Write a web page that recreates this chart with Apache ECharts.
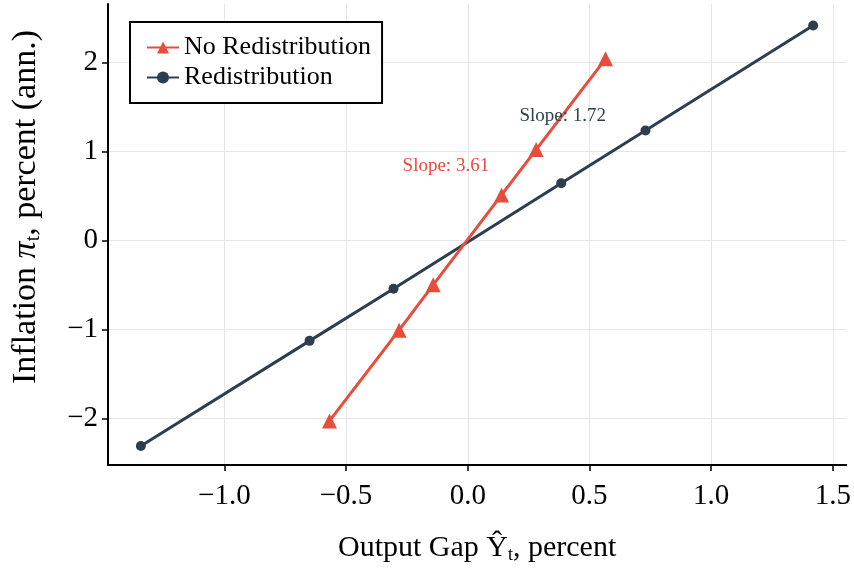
<!DOCTYPE html>
<html>
<head>
<meta charset="utf-8">
<script src="https://cdn.jsdelivr.net/npm/echarts@6/dist/echarts.min.js"></script>
<style>
  html, body { margin: 0; padding: 0; background: #fff; }
  #chart { width: 854px; height: 569px; }
</style>
</head>
<body>
<div id="chart"></div>
<script>
// Output gap (x) and annualised inflation (y) for the two model variants
const noRedistX = [-0.568, -0.282, -0.142, 0.139, 0.281, 0.566];
const noRedistY = [-2.03, -1.01, -0.50, 0.51, 1.02, 2.04];
const redistX = [-1.343, -0.650, -0.305, 0.384, 0.730, 1.419];
const redistY = [-2.312, -1.130, -0.545, 0.642, 1.235, 2.414];

// Axis tick values
const xTicks = [-1.0, -0.5, 0.0, 0.5, 1.0, 1.5];
const yTicks = [-2, -1, 0, 1, 2];

// Slope annotations: [x, y, text]
const slopeNoRedist = [-0.09, 0.83, 'Slope: 3.61'];
const slopeRedist = [0.39, 1.40, 'Slope: 1.72'];

const RED = '#e74c3c';
const NAVY = '#2c3e50';
const FONT = '"Liberation Serif", "DejaVu Serif", serif';

const zip = (xs, ys) => xs.map((x, i) => [x, ys[i]]);

const chart = echarts.init(document.getElementById('chart'), null, { renderer: 'canvas' });

const axisCommon = {
  axisLine: { show: true, onZero: false, lineStyle: { color: '#000', width: 2 } },
  axisTick: { show: true, inside: false, length: 6, lineStyle: { color: '#000', width: 1.5 } },
  splitLine: { show: true, lineStyle: { color: '#e6e6e6', width: 1 } },
  nameLocation: 'middle'
};

chart.setOption({
  animation: false,
  backgroundColor: '#fff',
  textStyle: { fontFamily: FONT },
  grid: { left: 108, right: 6, top: 4, bottom: 102, containLabel: false },
  legend: {
    orient: 'vertical',
    left: 130,
    top: 22,
    padding: [12, 11, 12, 16],
    backgroundColor: '#fff',
    borderColor: '#000',
    borderWidth: 2,
    borderRadius: 0,
    itemWidth: 32,
    itemHeight: 15,
    itemGap: 3,
    textStyle: { fontFamily: FONT, fontSize: 26, color: '#000', lineHeight: 27 },
    data: ['No Redistribution', 'Redistribution']
  },
  xAxis: Object.assign({}, axisCommon, {
    type: 'value',
    min: -1.478,
    max: 1.555,
    axisTick: Object.assign({}, axisCommon.axisTick, { customValues: xTicks }),
    axisLabel: {
      customValues: xTicks,
      margin: 17,
      fontFamily: FONT,
      fontSize: 29,
      color: '#000',
      formatter: v => (v < 0 ? '\u2212' : '') + Math.abs(v).toFixed(1)
    },
    name: '{t|Output Gap \u0176}{s|t}{t|, percent}',
    nameGap: 67,
    nameTextStyle: {
      rich: {
        t: { fontFamily: FONT, fontSize: 30, color: '#000' },
        s: { fontFamily: FONT, fontSize: 18, color: '#000', verticalAlign: 'bottom', padding: [14, 0, 0, 0] }
      }
    }
  }),
  yAxis: Object.assign({}, axisCommon, {
    type: 'value',
    min: -2.525,
    max: 2.656,
    axisTick: Object.assign({}, axisCommon.axisTick, { customValues: yTicks }),
    axisLabel: {
      customValues: yTicks,
      margin: 10,
      fontFamily: FONT,
      fontSize: 29,
      color: '#000',
      formatter: v => (v < 0 ? '\u2212' : '') + Math.abs(v)
    },
    name: '{t|Inflation }{p|\u03c0}{s|t}{t|, percent (ann.)}',
    nameGap: 64,
    nameTextStyle: {
      padding: [0, 0, 0, 55],
      rich: {
        t: { fontFamily: FONT, fontSize: 34, color: '#000' },
        p: { fontFamily: FONT, fontSize: 34, color: '#000', fontStyle: 'italic' },
        s: { fontFamily: FONT, fontSize: 20, color: '#000', verticalAlign: 'bottom', padding: [16, 0, 0, 0] }
      }
    }
  }),
  series: [
    {
      name: 'No Redistribution',
      type: 'line',
      data: zip(noRedistX, noRedistY),
      symbol: 'triangle',
      symbolSize: 15,
      showAllSymbol: true,
      lineStyle: { color: RED, width: 3 },
      itemStyle: { color: RED },
      z: 3
    },
    {
      name: 'Redistribution',
      type: 'line',
      data: zip(redistX, redistY),
      symbol: 'circle',
      symbolSize: 10,
      showAllSymbol: true,
      lineStyle: { color: NAVY, width: 3 },
      itemStyle: { color: NAVY },
      z: 2
    },
    {
      name: 'slopes',
      type: 'scatter',
      symbolSize: 0,
      silent: true,
      itemStyle: { opacity: 1 },
      data: [
        { value: [slopeNoRedist[0], slopeNoRedist[1]], label: { formatter: slopeNoRedist[2], color: RED } },
        { value: [slopeRedist[0], slopeRedist[1]], label: { formatter: slopeRedist[2], color: NAVY } }
      ],
      label: {
        show: true,
        position: 'inside',
        fontFamily: FONT,
        fontSize: 19,
        opacity: 1
      },
      z: 4
    }
  ]
});
</script>
</body>
</html>
